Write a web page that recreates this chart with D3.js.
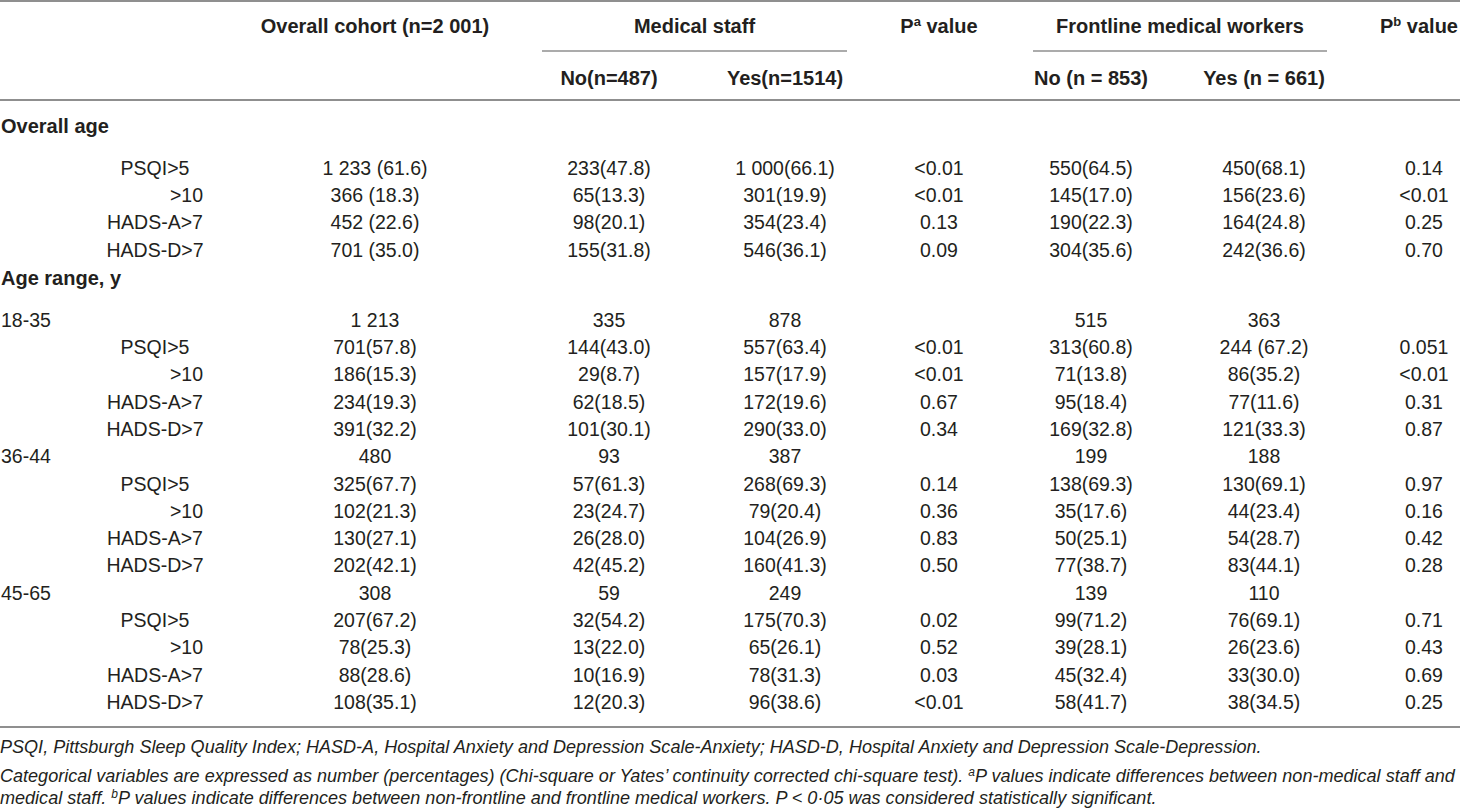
<!DOCTYPE html>
<html>
<head>
<meta charset="utf-8">
<script src="https://cdn.jsdelivr.net/npm/d3@7"></script>
<style>
  html, body { margin: 0; padding: 0; background: #fff; }
  svg { display: block; font-family: "Liberation Sans", Arial, Helvetica, sans-serif; }
  .hd { font-weight: bold; font-size: 20px; fill: #231f20; }
  .cell { font-size: 19.5px; fill: #231f20; }
  .sec { font-weight: bold; font-size: 20px; fill: #231f20; }
  .note { font-style: italic; font-size: 17px; fill: #231f20; }
</style>
</head>
<body>
<svg id="chart" width="1460" height="810"></svg>
<script>
// Column keys and header labels
const colKeys = ["overall", "medNo", "medYes", "pa", "frNo", "frYes", "pb"];
const subHeaders = ["No(n=487)", "Yes(n=1514)", "No (n = 853)", "Yes (n = 661)"];
const subHeaderCols = ["medNo", "medYes", "frNo", "frYes"];

const sectionTitles = ["Overall age", "Age range, y"];
const measureLabels = ["PSQI>5", ">10", "HADS-A>7", "HADS-D>7"];
const ageGroups = ["18-35", "36-44", "45-65"];

// Overall age rows
const overallRows = [
  ["1 233 (61.6)", "233(47.8)", "1 000(66.1)", "<0.01", "550(64.5)", "450(68.1)", "0.14"],
  ["366 (18.3)", "65(13.3)", "301(19.9)", "<0.01", "145(17.0)", "156(23.6)", "<0.01"],
  ["452 (22.6)", "98(20.1)", "354(23.4)", "0.13", "190(22.3)", "164(24.8)", "0.25"],
  ["701 (35.0)", "155(31.8)", "546(36.1)", "0.09", "304(35.6)", "242(36.6)", "0.70"]
];

// Age group totals
const groupTotals = [
  ["1 213", "335", "878", "", "515", "363", ""],
  ["480", "93", "387", "", "199", "188", ""],
  ["308", "59", "249", "", "139", "110", ""]
];

const rows1835 = [
  ["701(57.8)", "144(43.0)", "557(63.4)", "<0.01", "313(60.8)", "244 (67.2)", "0.051"],
  ["186(15.3)", "29(8.7)", "157(17.9)", "<0.01", "71(13.8)", "86(35.2)", "<0.01"],
  ["234(19.3)", "62(18.5)", "172(19.6)", "0.67", "95(18.4)", "77(11.6)", "0.31"],
  ["391(32.2)", "101(30.1)", "290(33.0)", "0.34", "169(32.8)", "121(33.3)", "0.87"]
];
const rows3644 = [
  ["325(67.7)", "57(61.3)", "268(69.3)", "0.14", "138(69.3)", "130(69.1)", "0.97"],
  ["102(21.3)", "23(24.7)", "79(20.4)", "0.36", "35(17.6)", "44(23.4)", "0.16"],
  ["130(27.1)", "26(28.0)", "104(26.9)", "0.83", "50(25.1)", "54(28.7)", "0.42"],
  ["202(42.1)", "42(45.2)", "160(41.3)", "0.50", "77(38.7)", "83(44.1)", "0.28"]
];
const rows4565 = [
  ["207(67.2)", "32(54.2)", "175(70.3)", "0.02", "99(71.2)", "76(69.1)", "0.71"],
  ["78(25.3)", "13(22.0)", "65(26.1)", "0.52", "39(28.1)", "26(23.6)", "0.43"],
  ["88(28.6)", "10(16.9)", "78(31.3)", "0.03", "45(32.4)", "33(30.0)", "0.69"],
  ["108(35.1)", "12(20.3)", "96(38.6)", "<0.01", "58(41.7)", "38(34.5)", "0.25"]
];
const groupRows = [rows1835, rows3644, rows4565];

const svg = d3.select("#chart");

// column centres
const x = d3.scaleOrdinal()
  .domain(colKeys)
  .range([375, 609, 785, 939, 1091, 1264, 1424]);

// row positions
const yOverall = d3.scaleLinear().domain([0, 3]).range([168, 250]);
const yGroups = d3.scaleLinear().domain([0, 14]).range([320, 702]);

const ruleColor = "#8f8f8f";

// rules
function rule(x1, x2, y, w){
  svg.append("line")
    .attr("x1", x1).attr("x2", x2)
    .attr("y1", y).attr("y2", y)
    .attr("stroke", ruleColor)
    .attr("stroke-width", w);
}
rule(0, 1460, 1, 2);
rule(542, 847, 51, 1.5);
rule(1033, 1327, 51, 1.5);
rule(0, 1460, 100, 2);
rule(0, 1460, 727, 2);

// header row 1
const hdY1 = 26, hdY2 = 78;
function header(text, cx, y, sup){
  const t = svg.append("text")
    .attr("class", "hd")
    .attr("x", cx).attr("y", y)
    .attr("dy", "0.35em")
    .attr("text-anchor", "middle");
  if(sup){
    t.append("tspan").text("P");
    t.append("tspan").attr("font-size", "13px").attr("dy", -7).text(sup);
    t.append("tspan").attr("dy", 7).text(" value");
  }else{
    t.text(text);
  }
}
header("Overall cohort (n=2 001)", x("overall"), hdY1);
header("Medical staff", (542 + 847) / 2, hdY1);
header("", x("pa"), hdY1, "a");
header("Frontline medical workers", (1033 + 1327) / 2, hdY1);
header("", 1419, hdY1, "b");

svg.selectAll("text.sub")
  .data(subHeaders)
  .join("text")
  .attr("class", "hd sub")
  .attr("x", (d, i) => x(subHeaderCols[i]))
  .attr("y", hdY2)
  .attr("dy", "0.35em")
  .attr("text-anchor", "middle")
  .text(d => d);

// section titles
svg.selectAll("text.sec")
  .data(sectionTitles)
  .join("text")
  .attr("class", "sec")
  .attr("x", 1)
  .attr("y", (d, i) => i === 0 ? 126 : 278)
  .attr("dy", "0.35em")
  .text(d => d);

// build body rows
const body = [];
overallRows.forEach((vals, i) => {
  body.push({ y: yOverall(i), label: measureLabels[i], kind: "measure", vals });
});
let k = 0;
ageGroups.forEach((g, gi) => {
  body.push({ y: yGroups(k++), label: g, kind: "group", vals: groupTotals[gi] });
  groupRows[gi].forEach((vals, i) => {
    body.push({ y: yGroups(k++), label: measureLabels[i], kind: "measure", vals });
  });
});

const rowG = svg.selectAll("g.row")
  .data(body)
  .join("g")
  .attr("class", "row")
  .attr("transform", d => `translate(0,${d.y})`);

// row labels: PSQI / HADS centred, ">10" right aligned
rowG.append("text")
  .attr("class", "cell")
  .attr("dy", "0.35em")
  .attr("x", d => d.kind === "group" ? 1 : (d.label === ">10" ? 203 : 155))
  .attr("text-anchor", d => d.kind === "group" ? "start" : (d.label === ">10" ? "end" : "middle"))
  .text(d => d.label);

rowG.selectAll("text.val")
  .data(d => d.vals.map((v, i) => ({ v, key: colKeys[i] })))
  .join("text")
  .attr("class", "cell val")
  .attr("x", d => x(d.key))
  .attr("dy", "0.35em")
  .attr("text-anchor", "middle")
  .text(d => d.v);

// footnotes
const noteY = [747, 776, 798];
const n1 = svg.append("text").attr("class", "note").attr("x", 0).attr("y", noteY[0]).attr("dy", "0.35em");
n1.text("PSQI, Pittsburgh Sleep Quality Index; HASD-A, Hospital Anxiety and Depression Scale-Anxiety; HASD-D, Hospital Anxiety and Depression Scale-Depression.");

const n2 = svg.append("text").attr("class", "note").attr("x", 0).attr("y", noteY[1]).attr("dy", "0.35em");
n2.append("tspan").text("Categorical variables are expressed as number (percentages) (Chi-square or Yates\u2019 continuity corrected chi-square test). ");
n2.append("tspan").attr("font-size", "12px").attr("dy", -6).text("a");
n2.append("tspan").attr("dy", 6).text("P values indicate differences between non-medical staff and");

const n3 = svg.append("text").attr("class", "note").attr("x", 0).attr("y", noteY[2]).attr("dy", "0.35em");
n3.append("tspan").text("medical staff. ");
n3.append("tspan").attr("font-size", "12px").attr("dy", -6).text("b");
n3.append("tspan").attr("dy", 6).text("P values indicate differences between non-frontline and frontline medical workers. P < 0\u00b705 was considered statistically significant.");

// fit footnote size so the long line spans the table width
const w2 = n2.node().getComputedTextLength();
const fs = 17 * 1456 / w2;
svg.selectAll("text.note").style("font-size", fs + "px");
</script>
</body>
</html>
